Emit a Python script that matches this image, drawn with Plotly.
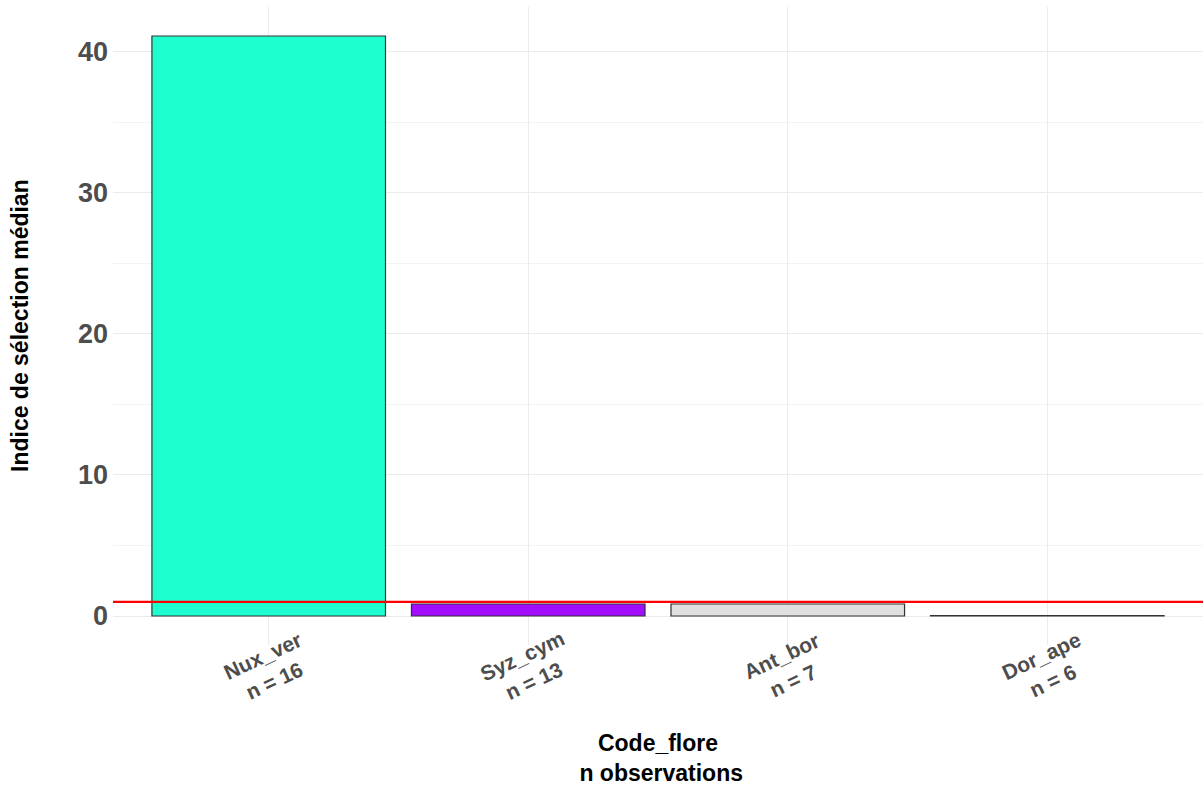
import plotly.graph_objects as go

categories = ["Nux_ver", "Syz_cym", "Ant_bor", "Dor_ape"]
n_obs = [16, 13, 7, 6]
values = [41.1, 0.85, 0.85, 0.03]
colors = ["#1EFFD0", "#A10DFF", "#E0E0E0", "#E0E0E0"]
ref_line = 1
y_ticks = [0, 10, 20, 30, 40]

FONT = "Liberation Sans, Arial, Helvetica"

fig = go.Figure()
fig.add_trace(go.Bar(
    x=categories, y=values, width=0.9,
    marker=dict(color=colors, line=dict(color="#333333", width=1.2)),
    showlegend=False,
))

fig.add_shape(type="line", xref="paper", x0=0, x1=1, yref="y", y0=ref_line, y1=ref_line,
              line=dict(color="#FF0000", width=2.2))

for c, n in zip(categories, n_obs):
    fig.add_annotation(x=c, y=0, xref="x", yref="y", text=f"{c}<br>n = {n}",
                       showarrow=False, textangle=-25, xshift=0, yshift=-52,
                       font=dict(family=FONT, size=21, color="#4D4D4D", weight="bold"),
                       align="center")

# axis titles
fig.add_annotation(xref="paper", yref="paper", x=0, y=0.5, xshift=-93,
                   text="Indice de sélection médian", textangle=-90, showarrow=False,
                   xanchor="center", yanchor="middle",
                   font=dict(family=FONT, size=23, color="black", weight="bold"))
fig.add_annotation(xref="paper", yref="paper", x=0.5, y=0, yshift=-113,
                   text="Code_flore<br> n observations", showarrow=False,
                   xanchor="center", yanchor="middle", align="center",
                   font=dict(family=FONT, size=23, color="black", weight="bold"))

fig.update_layout(
    width=1203, height=785,
    margin=dict(l=113, r=0, t=7, b=140),
    plot_bgcolor="white", paper_bgcolor="white",
    font=dict(family=FONT),
    xaxis=dict(range=[-0.6, 3.6], showticklabels=False, ticks="", showgrid=True,
               gridcolor="#EBEBEB", gridwidth=1.2, zeroline=False),
    yaxis=dict(range=[-2.055, 43.155], tickvals=y_ticks, showgrid=True,
               gridcolor="#EBEBEB", gridwidth=1.2, zeroline=False,
               minor=dict(dtick=5, showgrid=True, gridcolor="#F3F3F3", gridwidth=1),
               tickfont=dict(family=FONT, size=27, color="#4D4D4D", weight="bold"),
               ticklabelstandoff=4),
)

fig.write_html("out.html", config={"displayModeBar": False},
               post_script="document.body.style.margin='0px';document.body.style.overflow='hidden';")
